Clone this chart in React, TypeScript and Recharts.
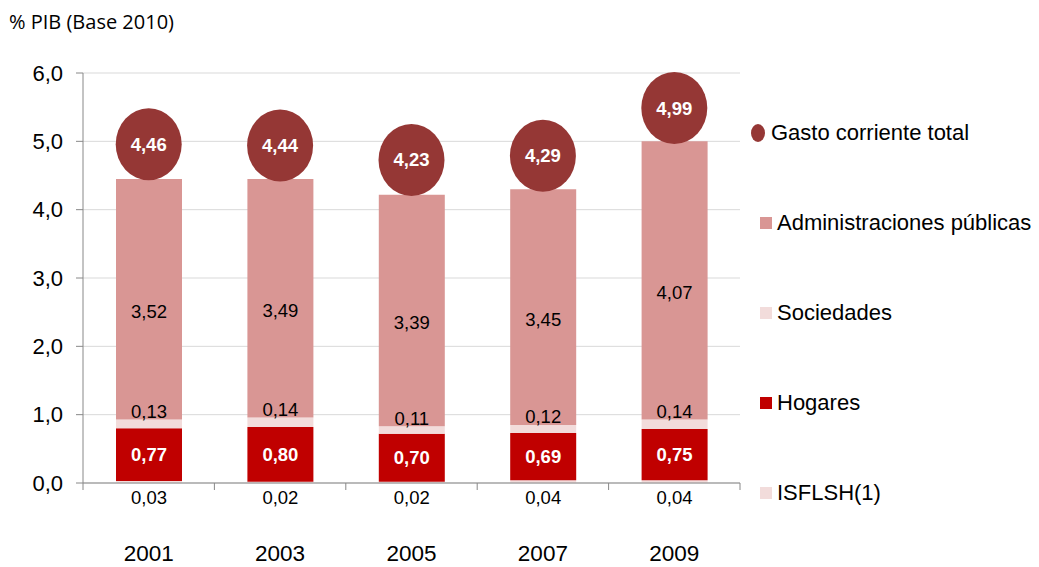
import { ComposedChart, Bar, Scatter, XAxis, YAxis, CartesianGrid, LabelList } from 'recharts';

const years = ['2001', '2003', '2005', '2007', '2009'];
const isflsh = [0.03, 0.02, 0.02, 0.04, 0.04];
const hogares = [0.77, 0.8, 0.7, 0.69, 0.75];
const sociedades = [0.13, 0.14, 0.11, 0.12, 0.14];
const administraciones = [3.52, 3.49, 3.39, 3.45, 4.07];
const total = [4.46, 4.44, 4.23, 4.29, 4.99];
const yTicks = [0, 1, 2, 3, 4, 5, 6];

const data = years.map((year, i) => ({
  year,
  isflsh: isflsh[i],
  hogares: hogares[i],
  sociedades: sociedades[i],
  administraciones: administraciones[i],
  total: total[i],
}));

const fmt = (v: number, d = 2) => v.toFixed(d).replace('.', ',');

const COLORS = {
  total: '#953735',
  administraciones: '#d99694',
  sociedades: '#f2dcdb',
  hogares: '#c00000',
  isflsh: '#f2dcdb',
};

const AXIS_FONT = 'Arial, "Liberation Sans", sans-serif';
const BAND = (740 - 83) / years.length;
const LABEL_SIZE = 18.5;

const legendItems = [
  { name: 'Gasto corriente total', color: COLORS.total, round: true },
  { name: 'Administraciones públicas', color: COLORS.administraciones },
  { name: 'Sociedades', color: COLORS.sociedades },
  { name: 'Hogares', color: COLORS.hogares },
  { name: 'ISFLSH(1)', color: COLORS.isflsh },
];

const ChartLegend = () => (
  <div style={{ position: 'absolute', left: 751, top: 133, width: 290, fontFamily: AXIS_FONT, fontSize: 22, color: '#000' }}>
    {legendItems.map((it, i) => (
      <div key={it.name} style={{ position: 'absolute', top: i * 90 - 13, left: 0, display: 'flex', alignItems: 'center', height: 26, whiteSpace: 'nowrap' }}>
        {it.round ? (
          <span style={{ display: 'inline-block', width: 14, height: 18, borderRadius: '50%', background: it.color, marginRight: 6 }} />
        ) : (
          <span style={{ display: 'inline-block', width: 12, height: 12, background: it.color, marginLeft: 9, marginRight: 5 }} />
        )}
        <span>{it.name}</span>
      </div>
    ))}
  </div>
);

const XTick = (props: any) => {
  const { x, y, payload, index } = props;
  return (
    <g>
      {index === 0 && <line x1={x - BAND / 2} x2={x - BAND / 2} y1={483} y2={490} stroke="#888" />}
      <line x1={x + BAND / 2} x2={x + BAND / 2} y1={483} y2={490} stroke="#888" />
      <text x={x} y={y + 70} textAnchor="middle" fontFamily={AXIS_FONT} fontSize={22.5} fill="#000">
        {payload.value}
      </text>
    </g>
  );
};

const TotalShape = (props: any) => {
  const { cx, cy, payload } = props;
  const c = cy - 34;
  return (
    <g>
      <ellipse cx={cx} cy={c} rx={33} ry={36} fill={COLORS.total} />
      <text x={cx} y={c} textAnchor="middle" dominantBaseline="central" fontFamily={AXIS_FONT} fontSize={LABEL_SIZE} fontWeight="bold" fill="#fff">
        {fmt(payload.total)}
      </text>
    </g>
  );
};

const labelText = (x: number, y: number, v: number, color = '#000', bold = false) => (
  <text x={x} y={y} textAnchor="middle" dominantBaseline="central" fontFamily={AXIS_FONT} fontSize={LABEL_SIZE} fontWeight={bold ? 'bold' : 'normal'} fill={color}>
    {fmt(v)}
  </text>
);

export default function App() {
  return (
    <div style={{ marginLeft: -8, marginTop: -8, width: 1039, height: 567, background: '#fff', position: 'relative' }}>
      <div style={{ position: 'absolute', left: 9, top: 8, fontFamily: '"Open Sans", "Noto Sans", sans-serif', fontSize: 20, color: '#000' }}>
        % PIB (Base 2010)
      </div>
      <ComposedChart width={1039} height={567} data={data} margin={{ top: 73, right: 299, bottom: 0, left: 0 }}>
        <CartesianGrid vertical={false} stroke="#d9d9d9" />
        <XAxis dataKey="year" height={84} axisLine={{ stroke: '#888' }} tickLine={false} tick={<XTick />} interval={0} />
        <YAxis
          width={83}
          domain={[0, 6]}
          ticks={yTicks}
          tickFormatter={(v: number) => fmt(v, 1)}
          axisLine={{ stroke: '#888' }}
          tickLine={{ stroke: '#888' }}
          tickSize={7}
          tickMargin={13}
          tick={{ fontFamily: AXIS_FONT, fontSize: 22, fill: '#000' }}
        />
        <Bar dataKey="isflsh" stackId="a" fill={COLORS.isflsh} barSize={66} isAnimationActive={false}>
          <LabelList dataKey="isflsh" content={(p: any) => labelText(p.x + p.width / 2, p.y + p.height + 14, p.value)} />
        </Bar>
        <Bar dataKey="hogares" stackId="a" fill={COLORS.hogares} barSize={66} isAnimationActive={false}>
          <LabelList dataKey="hogares" content={(p: any) => labelText(p.x + p.width / 2, p.y + p.height / 2, p.value, '#fff', true)} />
        </Bar>
        <Bar dataKey="sociedades" stackId="a" fill={COLORS.sociedades} barSize={66} isAnimationActive={false}>
          <LabelList dataKey="sociedades" content={(p: any) => labelText(p.x + p.width / 2, p.y - 8, p.value)} />
        </Bar>
        <Bar dataKey="administraciones" stackId="a" fill={COLORS.administraciones} barSize={66} isAnimationActive={false}>
          <LabelList dataKey="administraciones" content={(p: any) => labelText(p.x + p.width / 2, p.y + p.height / 2 + 12, p.value)} />
        </Bar>
        <Scatter dataKey="total" shape={<TotalShape />} isAnimationActive={false} legendType="none" />
      </ComposedChart>
      <ChartLegend />
    </div>
  );
}
